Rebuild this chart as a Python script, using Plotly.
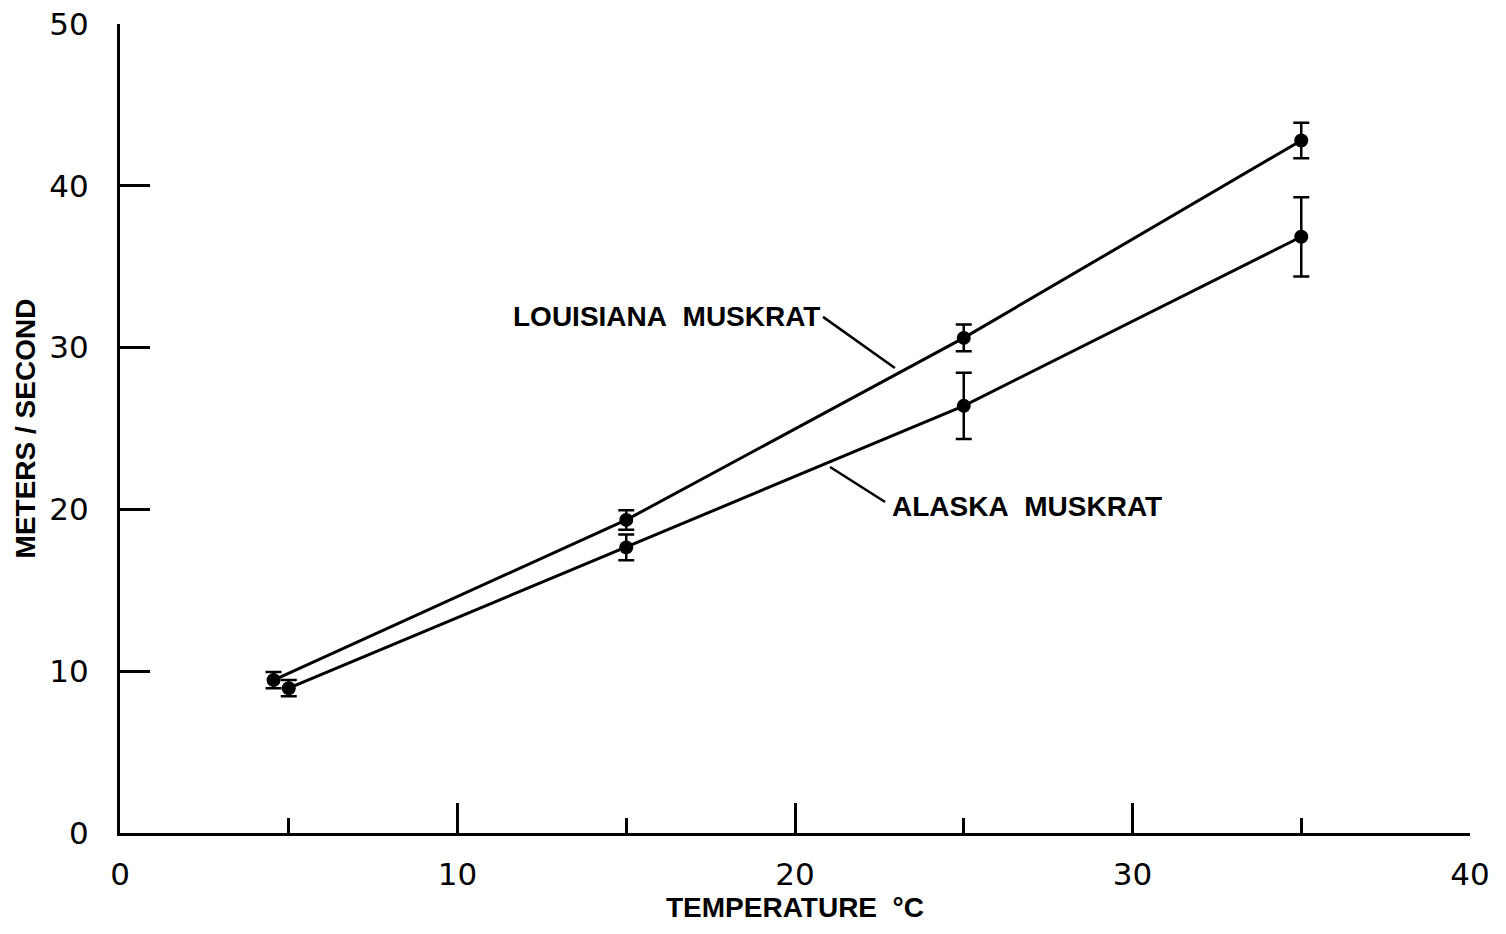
import plotly.graph_objects as go

# Sound velocity measurements, mean ± error, by water temperature
louisiana_temp = [4.55, 15, 25, 35]
louisiana_speed = [9.45, 19.35, 30.6, 42.8]
louisiana_err = [0.5, 0.6, 0.83, 1.1]

alaska_temp = [5.0, 15, 25, 35]
alaska_speed = [8.95, 17.65, 26.4, 36.85]
alaska_err = [0.5, 0.8, 2.05, 2.45]

x_ticks = [0, 10, 20, 30, 40]
y_ticks = [0, 10, 20, 30, 40, 50]

INK = "black"
LABEL_FONT = "Liberation Sans"
NUM_FONT = "DejaVu Sans"

fig = go.Figure()

for temp, speed, err in [
    (louisiana_temp, louisiana_speed, louisiana_err),
    (alaska_temp, alaska_speed, alaska_err),
]:
    fig.add_trace(go.Scatter(
        x=temp, y=speed,
        mode="lines+markers",
        line=dict(color=INK, width=3),
        marker=dict(color=INK, size=14),
        error_y=dict(type="data", array=err, visible=True,
                     color=INK, thickness=2.5, width=8),
        showlegend=False,
        hoverinfo="skip",
    ))

# Leader lines from the labels to their curves
fig.add_shape(type="line", x0=20.83, y0=31.9, x1=22.96, y1=28.74,
              line=dict(color=INK, width=2.5))
fig.add_shape(type="line", x0=21.04, y0=22.62, x1=22.67, y1=20.46,
              line=dict(color=INK, width=2.5))

label_font = dict(family=LABEL_FONT, size=28, color=INK, weight="bold")
fig.add_annotation(x=20.8, y=31.95, xanchor="right", yanchor="middle",
                   text="LOUISIANA&nbsp;&nbsp;MUSKRAT", showarrow=False,
                   font=label_font)
fig.add_annotation(x=22.8, y=20.15, xanchor="left", yanchor="middle",
                   text="ALASKA&nbsp;&nbsp;MUSKRAT", showarrow=False,
                   font=label_font)

tick_font = dict(family=NUM_FONT, size=31, color=INK)
title_font = dict(family=LABEL_FONT, size=28, color=INK, weight="bold")

fig.update_xaxes(
    range=[0, 40],
    tickvals=x_ticks,
    ticktext=[str(v) for v in x_ticks],
    ticks="inside", ticklen=30, tickwidth=2.5, tickcolor=INK,
    minor=dict(ticks="inside", ticklen=15, tickwidth=2.5, tickcolor=INK,
               tickvals=[5, 15, 25, 35]),
    showline=True, linecolor=INK, linewidth=3,
    showgrid=False, zeroline=False, automargin=False,
    tickfont=tick_font, ticklabelstandoff=12,
    title=dict(text="TEMPERATURE&nbsp;&nbsp;°C", font=title_font, standoff=2),
)
fig.update_yaxes(
    range=[0, 50],
    tickvals=y_ticks,
    ticktext=[str(v) for v in y_ticks],
    ticks="inside", ticklen=30, tickwidth=2.5, tickcolor=INK,
    showline=True, linecolor=INK, linewidth=3,
    showgrid=False, zeroline=False, automargin=False,
    tickfont=tick_font, ticklabelstandoff=22,
    title=dict(text="METERS / SECOND", font=title_font, standoff=6),
)

fig.update_layout(
    width=1506, height=934,
    margin=dict(l=120, r=36, t=24, b=101),
    plot_bgcolor="white", paper_bgcolor="white",
)

fig.write_html("out.html")
